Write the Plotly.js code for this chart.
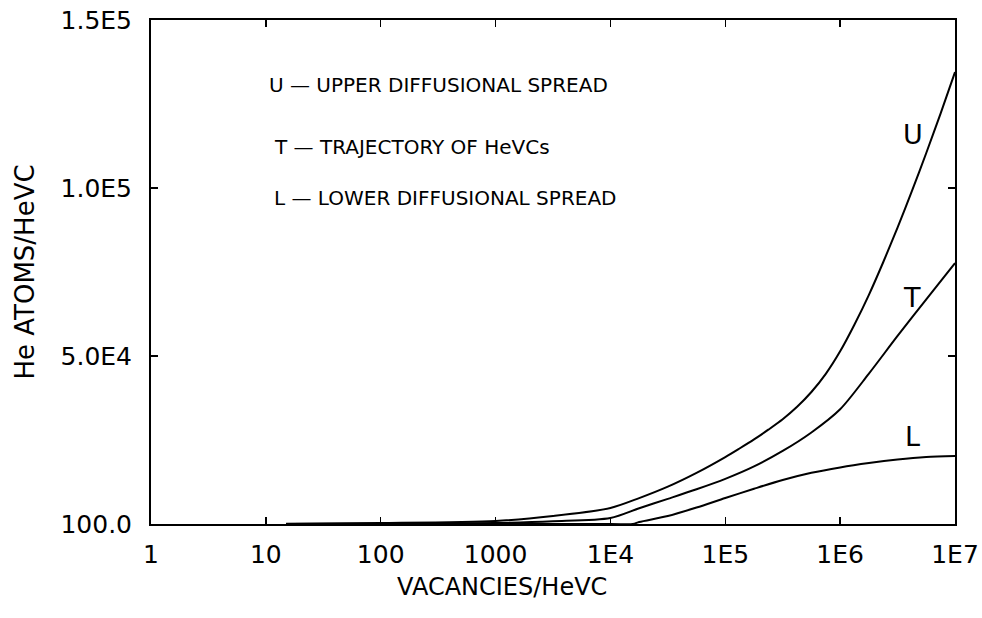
<!DOCTYPE html>
<html>
<head>
<meta charset="utf-8">
<script src="https://cdn.plot.ly/plotly-3.0.1.min.js"></script>
<style>html,body{margin:0;padding:0;background:#fff;}#chart{width:982px;height:618px;}</style>
</head>
<body>
<div id="chart"></div>
<script>
// Vacancies per HeVC (x) and He atoms per HeVC (y)
const xUpper = [15, 100, 1000, 3160, 1e4, 1.78e4, 3.16e4, 5.62e4, 1e5, 1.33e5, 1.78e5, 2.37e5, 3.16e5, 4.22e5, 5.62e5, 7.5e5, 1e6, 1.33e6, 1.78e6, 2.37e6, 3.16e6, 4.22e6, 5.62e6, 7.5e6, 1e7];
const yUpper = [200, 400, 1000, 2480, 4860, 7800, 11200, 15300, 20000, 22550, 25250, 28150, 31250, 34950, 39350, 44750, 51450, 59350, 68250, 77950, 88250, 99150, 110450, 122250, 134500];

const xTraj = [15, 100, 1000, 3160, 1e4, 1.78e4, 3.16e4, 5.62e4, 1e5, 1.78e5, 3.16e5, 5.62e5, 1e6, 1.78e6, 3.16e6, 5.62e6, 1e7];
const yTraj = [100, 150, 400, 900, 1880, 4780, 7580, 10430, 13530, 17230, 21830, 27330, 34230, 44830, 56030, 66930, 77700];

const xLower = [15, 1e4, 1.57e4, 1.78e4, 3.16e4, 5.62e4, 1e5, 1.78e5, 3.16e5, 5.62e5, 1e6, 1.78e6, 3.16e6, 5.62e6, 1e7];
const yLower = [100, 100, 100, 700, 2480, 5000, 7830, 10580, 13180, 15330, 16930, 18230, 19280, 20030, 20350];

const xTickVals = [1, 10, 100, 1000, 1e4, 1e5, 1e6, 1e7];
const xTickText = ["1", "10", "100", "1000", "1E4", "1E5", "1E6", "1E7"];
const yTickVals = [100, 50000, 100000, 150000];
const yTickText = ["100.0", "5.0E4", "1.0E5", "1.5E5"];

const legendLines = [
  "U \u2014 UPPER DIFFUSIONAL SPREAD",
  "T \u2014 TRAJECTORY OF HeVCs",
  "L \u2014 LOWER DIFFUSIONAL SPREAD"
];
const curveLabels = ["U", "T", "L"];

const FONT = "DejaVu Sans, Liberation Sans, sans-serif";
const lineStyle = {color: "#000", width: 2, shape: "spline", smoothing: 0.8};

const traces = [
  {x: xUpper, y: yUpper, name: "U", mode: "lines", line: lineStyle},
  {x: xTraj, y: yTraj, name: "T", mode: "lines", line: lineStyle},
  {x: xLower, y: yLower, name: "L", mode: "lines", line: lineStyle}
];

const axisCommon = {
  showline: true, linecolor: "#000", linewidth: 2, mirror: "ticks",
  ticks: "inside", ticklen: 7, tickwidth: 1.5, tickcolor: "#000",
  showgrid: false, zeroline: false,
  tickfont: {family: FONT, size: 25, color: "#000"}
};

const layout = {
  width: 982, height: 618,
  margin: {l: 151, r: 27, t: 20, b: 94},
  paper_bgcolor: "#fff", plot_bgcolor: "#fff",
  showlegend: false,
  xaxis: Object.assign({}, axisCommon, {
    type: "log", range: [0, 7],
    tickmode: "array", tickvals: xTickVals, ticktext: xTickText,
    ticklabelstandoff: 7
  }),
  yaxis: Object.assign({}, axisCommon, {
    range: [100, 150000],
    tickmode: "array", tickvals: yTickVals, ticktext: yTickText,
    ticklabelstandoff: 12,
    title: {text: "He ATOMS/HeVC", font: {family: FONT, size: 26, color: "#000"}, standoff: 18}
  }),
  annotations: [
    {text: "VACANCIES/HeVC", xref: "paper", yref: "paper", x: (502 - 151) / 804, y: (524 - 587) / 504,
     xanchor: "center", yanchor: "middle", showarrow: false,
     font: {family: FONT, size: 24, color: "#000"}},
    {text: legendLines[0], xref: "paper", yref: "paper", x: 0.1443, y: 0.871,
     xanchor: "left", yanchor: "middle", showarrow: false, font: {family: FONT, size: 20, color: "#000"}},
    {text: legendLines[1], xref: "paper", yref: "paper", x: 0.1505, y: 0.748,
     xanchor: "left", yanchor: "middle", showarrow: false, font: {family: FONT, size: 20, color: "#000"}},
    {text: legendLines[2], xref: "paper", yref: "paper", x: 0.1505, y: 0.647,
     xanchor: "left", yanchor: "middle", showarrow: false, font: {family: FONT, size: 20, color: "#000"}},
    {text: curveLabels[0], xref: "paper", yref: "paper", x: 0.948, y: (524 - 134) / 504,
     xanchor: "center", yanchor: "middle", showarrow: false, font: {family: FONT, size: 27, color: "#000"}},
    {text: curveLabels[1], xref: "paper", yref: "paper", x: 0.946, y: (524 - 297) / 504,
     xanchor: "center", yanchor: "middle", showarrow: false, font: {family: FONT, size: 27, color: "#000"}},
    {text: curveLabels[2], xref: "paper", yref: "paper", x: 0.947, y: (524 - 436) / 504,
     xanchor: "center", yanchor: "middle", showarrow: false, font: {family: FONT, size: 27, color: "#000"}}
  ]
};

Plotly.newPlot("chart", traces, layout, {displayModeBar: false, staticPlot: true});
</script>
</body>
</html>
